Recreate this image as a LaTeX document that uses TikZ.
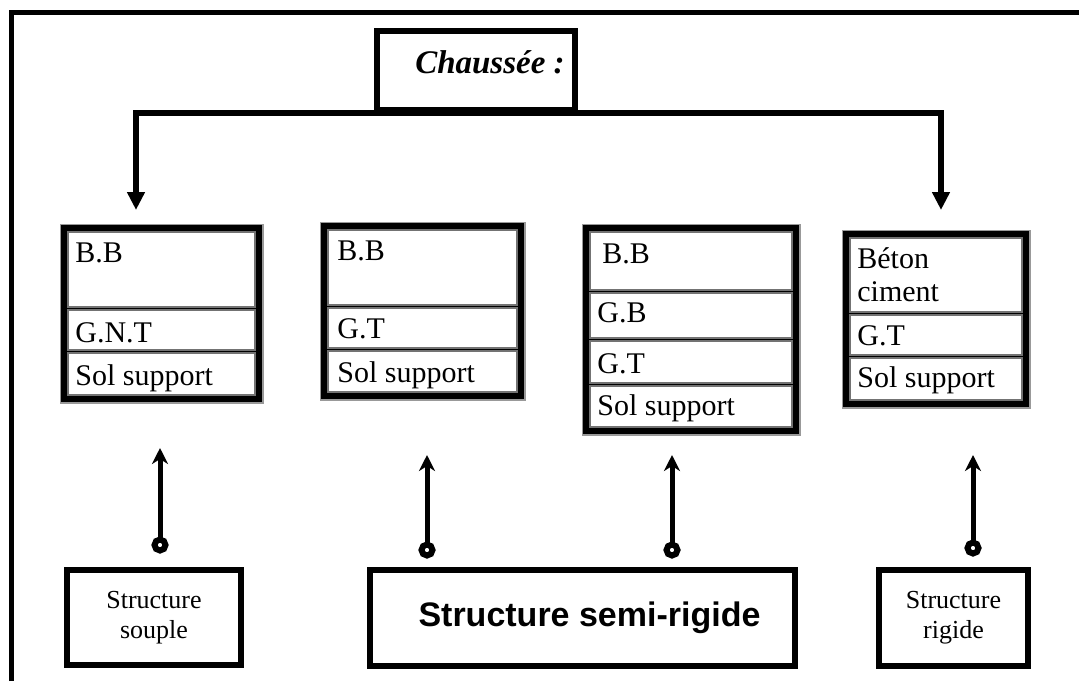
\documentclass[tikz,border=0pt]{standalone}
\usepackage{fontspec}
\setmainfont{Liberation Serif}
\newfontfamily\arialfont{Liberation Sans}
\usetikzlibrary{arrows.meta}

\tikzset{every picture/.style={line width=0.75pt}}
\tikzset{
  stackbox/.style={fill=black, draw=black, line width=3.5, preaction={draw=black!40, line width=7}, inner sep=0, outer sep=0},
  cellbox/.style={fill=white, draw=black!55, line width=1.2, inner sep=0, outer sep=0},
  structbox/.style={draw, line width=5.5, inner sep=0, outer sep=0, align=center, font=\fontsize{26}{30}\selectfont},
  layertext/.style={anchor=base west, inner sep=0, font=\fontsize{30}{33}\selectfont},
  trunk/.style={line width=6, {Triangle[width=17pt,length=18pt]}-{Triangle[width=17pt,length=18pt]}},
  uparrow/.style={line width=5, -{Stealth[length=16pt,width=16pt,inset=5pt]}},
  ring/.style={circle, draw, fill=white, line width=6, minimum size=11, inner sep=0, outer sep=0}
}

\begin{document}
\begin{tikzpicture}[x=1pt,y=1pt,yscale=-1,xscale=1]
\useasboundingbox (0,0) rectangle (1079,681);

%Outer frame
\draw [line width=5.5]  (11.5,681) -- (11.5,12.5) -- (1079,12.5) ;

%Shape: Rectangle Chaussee
\node [draw, line width=5.5, minimum width=198, minimum height=79, inner sep=0, outer sep=0] (chbox) at (476,70.5) {};
% Text Node
\node [anchor=base, inner sep=0, font=\bfseries\itshape\fontsize{33}{36}\selectfont] (chtext) at (490,73) {Chauss\'ee :};

%Straight Lines trunk
\coordinate (tipL) at (136,210);
\coordinate (trunkL) at (136,113);
\coordinate (trunkR) at (941,113);
\coordinate (tipR) at (941,210);
\draw [trunk] (tipL) -- (trunkL) -- (trunkR) -- (tipR) ;

%Shape: Stack souple
\node [stackbox, minimum width=197, minimum height=173] (s1) at (161.5,313.5) {};
\node [cellbox, minimum width=187, minimum height=75] (s1a) at (161.5,269.5) {};
\node [cellbox, minimum width=187, minimum height=40] (s1b) at (161.5,330) {};
\node [cellbox, minimum width=187, minimum height=42] (s1c) at (161.5,374) {};
% Text Node
\node [layertext] (t1a) at (75,262) {B.B};
\node [layertext] (t1b) at (75,342) {G.N.T};
\node [layertext] (t1c) at (75,385) {Sol support};

%Shape: Stack semi-rigide 1
\node [stackbox, minimum width=199, minimum height=172] (s2) at (422.5,311) {};
\node [cellbox, minimum width=189, minimum height=75] (s2a) at (422.5,267.5) {};
\node [cellbox, minimum width=189, minimum height=40] (s2b) at (422.5,328) {};
\node [cellbox, minimum width=189, minimum height=41] (s2c) at (422.5,371.5) {};
% Text Node
\node [layertext] (t2a) at (337,260) {B.B};
\node [layertext] (t2b) at (337,338) {G.T};
\node [layertext] (t2c) at (337,382) {Sol support};

%Shape: Stack semi-rigide 2
\node [stackbox, minimum width=212, minimum height=205] (s3) at (691,329.5) {};
\node [cellbox, minimum width=202, minimum height=58] (s3a) at (691,261) {};
\node [cellbox, minimum width=202, minimum height=45] (s3b) at (691,315.5) {};
\node [cellbox, minimum width=202, minimum height=42] (s3c) at (691,362) {};
\node [cellbox, minimum width=202, minimum height=41] (s3d) at (691,406.5) {};
% Text Node
\node [layertext] (t3a) at (602,263) {B.B};
\node [layertext] (t3b) at (597,322) {G.B};
\node [layertext] (t3c) at (597,373) {G.T};
\node [layertext] (t3d) at (597,415) {Sol support};

%Shape: Stack rigide
\node [stackbox, minimum width=182, minimum height=172] (s4) at (936,319) {};
\node [cellbox, minimum width=172, minimum height=74] (s4a) at (936,275) {};
\node [cellbox, minimum width=172, minimum height=40] (s4b) at (936,335) {};
\node [cellbox, minimum width=172, minimum height=42] (s4c) at (936,379) {};
% Text Node
\node [layertext, anchor=north west, align=left] (t4a) at (857,247) {B\'eton\\ciment};
\node [layertext] (t4b) at (857,345) {G.T};
\node [layertext] (t4c) at (857,387) {Sol support};

%Shape: Structure boxes
\node [structbox, minimum width=174, minimum height=95] (souple) at (154,617.5) {Structure\\souple};
\node [structbox, minimum width=425, minimum height=96, font=\arialfont\bfseries\fontsize{34}{36}\selectfont] (semi) at (582.5,618) {\hspace{14pt}Structure semi-rigide};
\node [structbox, minimum width=149, minimum height=96] (rigide) at (953.5,618) {Structure\\rigide};

%Straight Lines up arrows
\node [ring] (r1) at (160,545) {};
\node [ring] (r2) at (427,550) {};
\node [ring] (r3) at (672,550) {};
\node [ring] (r4) at (973,548) {};
\coordinate (e1) at (160,448);
\coordinate (e2) at (427,455);
\coordinate (e3) at (672,455);
\coordinate (e4) at (973,455);
\draw [uparrow] (r1.north) -- (e1) ;
\draw [uparrow] (r2.north) -- (e2) ;
\draw [uparrow] (r3.north) -- (e3) ;
\draw [uparrow] (r4.north) -- (e4) ;

\end{tikzpicture}
\end{document}
